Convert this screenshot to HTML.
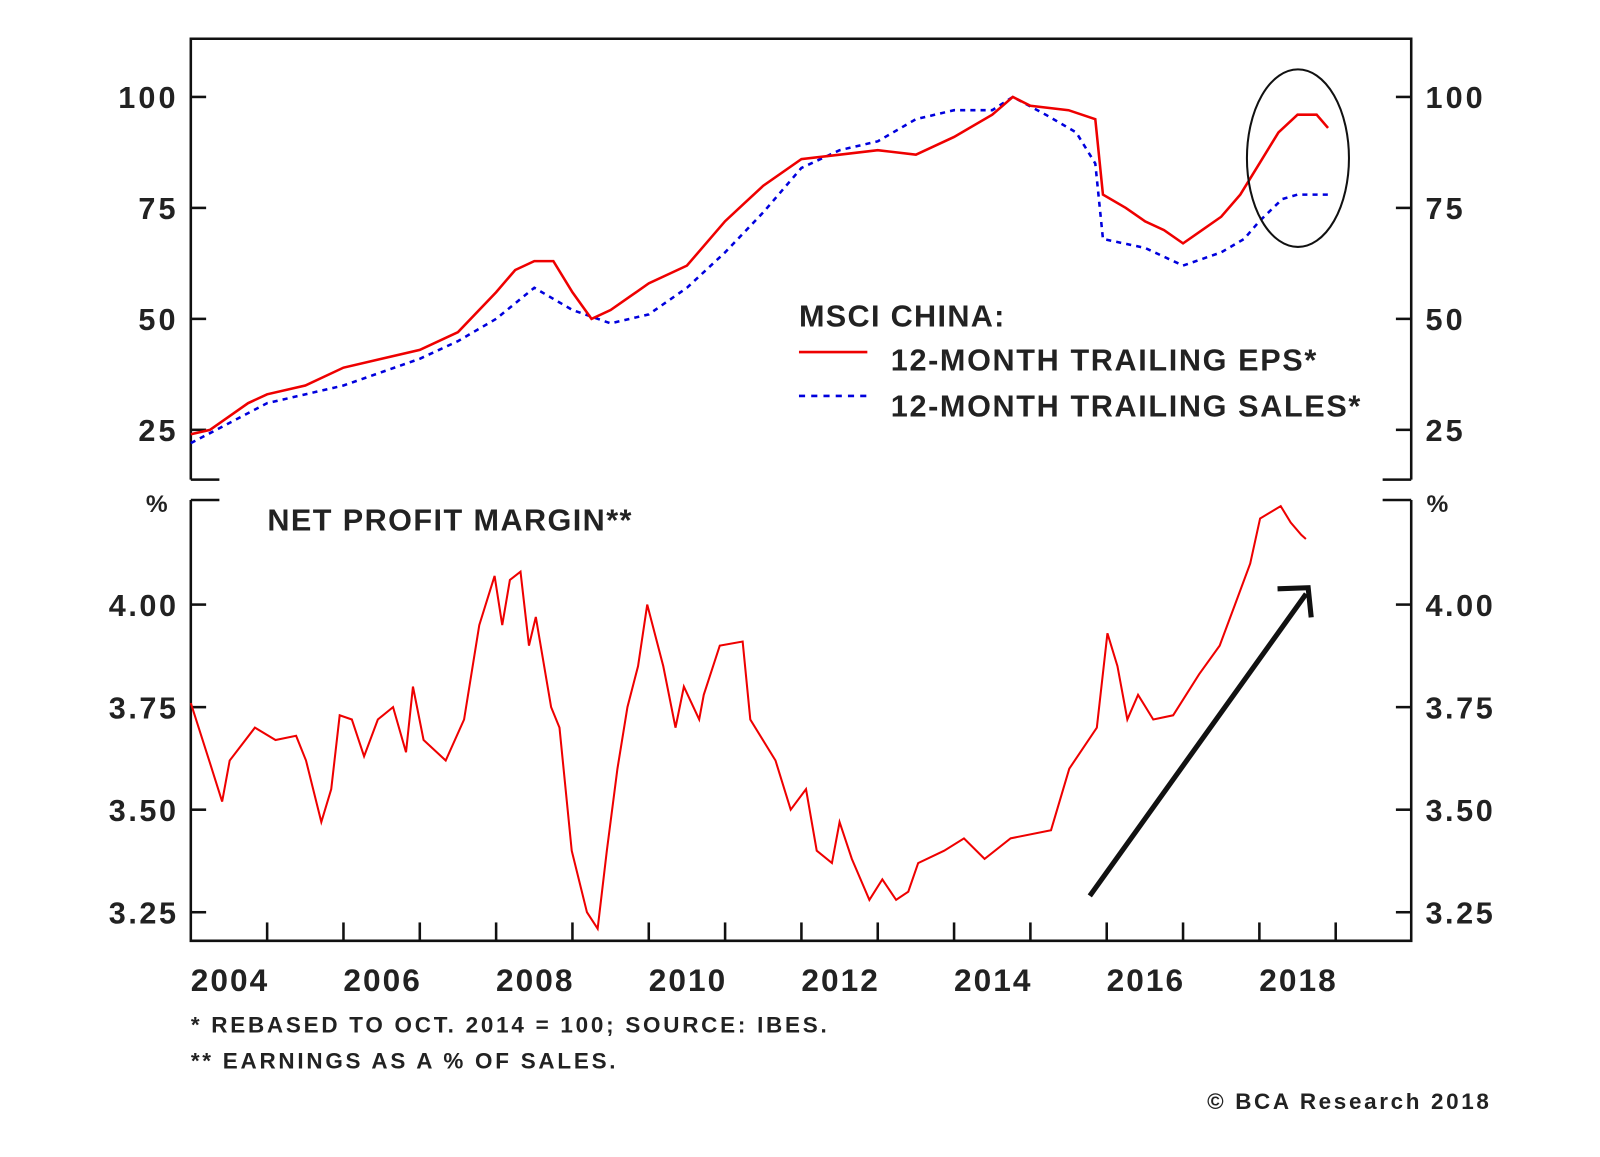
<!DOCTYPE html>
<html><head><meta charset="utf-8"><style>
html,body{margin:0;padding:0;background:#fff;}
svg text{font-family:"Liberation Sans",Arial,sans-serif;font-weight:bold;fill:#222;}
</style></head><body>
<svg id="chart" width="1600" height="1152" viewBox="0 0 1600 1152" xmlns="http://www.w3.org/2000/svg">
<g transform="scale(1.0204)">
<g id="frame" stroke="#111" stroke-width="2.5" fill="none">
<path d="M187,470 L187,38 L1383,38 L1383,470"/>
<path d="M187,470 L215,470 M1355,470 L1383,470"/>
<path d="M187,490 L215,490 M1355,490 L1383,490"/>
<path d="M187,490 L187,922 L1383,922 L1383,490"/>
</g>
<g id="axes"></g>
<g id="series"></g>
<g id="legend">
<text x="783" y="320" font-size="30" letter-spacing="1.3">MSCI CHINA:</text>
<line x1="783" y1="345" x2="850" y2="345" stroke="#e00" stroke-width="2.5"/>
<text x="873" y="363" font-size="30" letter-spacing="1.6">12-MONTH TRAILING EPS*</text>
<line x1="783" y1="388" x2="850" y2="388" stroke="#00d" stroke-width="2.5" stroke-dasharray="6,6"/>
<text x="873" y="408" font-size="30" letter-spacing="1.6">12-MONTH TRAILING SALES*</text>
</g>
<text x="262" y="520" font-size="30" letter-spacing="1.4">NET PROFIT MARGIN**</text>
<text x="143" y="502" font-size="24">%</text>
<text x="1398" y="502" font-size="24">%</text>
<ellipse cx="1272" cy="155" rx="50" ry="87" fill="none" stroke="#111" stroke-width="2"/>
<g stroke="#111" stroke-width="5" fill="none">
<line x1="1068" y1="878" x2="1280" y2="582"/>
<path d="M1252,577 L1282,576 L1285,605"/>
</g>
<text x="187" y="1012" font-size="22" letter-spacing="2.7">*  REBASED TO OCT. 2014 = 100; SOURCE: IBES.</text>
<text x="187" y="1047" font-size="22" letter-spacing="2.7">** EARNINGS AS A % OF SALES.</text>
<text x="1183" y="1087" font-size="22" letter-spacing="2.6">© BCA Research 2018</text>
</g>
</svg>
<script>
const epsYears=[2004.0,2004.25,2004.5,2004.75,2005.0,2005.5,2006.0,2006.5,2007.0,2007.5,2008.0,2008.25,2008.5,2008.75,2009.0,2009.25,2009.5,2009.75,2010.0,2010.5,2011.0,2011.25,2011.5,2012.0,2012.5,2013.0,2013.5,2014.0,2014.5,2014.77,2015.0,2015.5,2015.85,2015.95,2016.25,2016.5,2016.75,2017.0,2017.25,2017.5,2017.75,2018.0,2018.25,2018.5,2018.75,2018.9];
const epsValues=[24,25,28,31,33,35,39,41,43,47,56,61,63,63,56,50,52,55,58,62,72,76,80,86,87,88,87,91,96,100,98,97,95,78,75,72,70,67,70,73,78,85,92,96,96,93];
const salesYears=[2004.0,2005.0,2006.0,2007.0,2007.5,2008.0,2008.5,2009.0,2009.5,2010.0,2010.5,2011.0,2011.5,2012.0,2012.5,2013.0,2013.5,2014.0,2014.5,2014.77,2015.2,2015.6,2015.85,2015.95,2016.5,2017.0,2017.5,2017.8,2018.0,2018.3,2018.5,2018.9];
const salesValues=[22,31,35,41,45,50,57,52,49,51,57,65,74,84,88,90,95,97,97,100,96,92,85,68,66,62,65,68,72,77,78,78];
const marginYears=[2004.00,2004.24,2004.41,2004.51,2004.84,2005.11,2005.38,2005.51,2005.71,2005.84,2005.95,2006.11,2006.27,2006.45,2006.65,2006.82,2006.91,2007.05,2007.34,2007.58,2007.78,2007.98,2008.08,2008.18,2008.32,2008.43,2008.52,2008.72,2008.83,2008.99,2009.19,2009.33,2009.45,2009.59,2009.72,2009.86,2009.98,2010.19,2010.35,2010.46,2010.66,2010.72,2010.93,2011.23,2011.33,2011.66,2011.86,2012.06,2012.20,2012.40,2012.50,2012.66,2012.89,2013.06,2013.24,2013.40,2013.53,2013.87,2014.13,2014.40,2014.74,2015.27,2015.51,2015.87,2016.01,2016.14,2016.27,2016.41,2016.61,2016.87,2017.21,2017.48,2017.68,2017.88,2018.01,2018.28,2018.41,2018.55,2018.61];
const marginValues=[3.76,3.62,3.52,3.62,3.70,3.67,3.68,3.62,3.47,3.55,3.73,3.72,3.63,3.72,3.75,3.64,3.80,3.67,3.62,3.72,3.95,4.07,3.95,4.06,4.08,3.90,3.97,3.75,3.70,3.40,3.25,3.21,3.40,3.60,3.75,3.85,4.00,3.85,3.70,3.80,3.72,3.78,3.90,3.91,3.72,3.62,3.50,3.55,3.40,3.37,3.47,3.38,3.28,3.33,3.28,3.30,3.37,3.40,3.43,3.38,3.43,3.45,3.60,3.70,3.93,3.85,3.72,3.78,3.72,3.73,3.83,3.90,4.00,4.10,4.21,4.24,4.20,4.17,4.16];
const yearLabels=["2004","2006","2008","2010","2012","2014","2016","2018"];
const topTicks=[25,50,75,100];
const bottomTicks=[3.25,3.50,3.75,4.00];

const NS="http://www.w3.org/2000/svg";
const xScale=y=>187+(y-2004)*74.8;
const yTop=v=>95+(100-v)*4.35;
const yBot=v=>894-(v-3.25)*402;
const axes=document.getElementById('axes');
const series=document.getElementById('series');
function mk(tag,attrs,parent){const e=document.createElementNS(NS,tag);for(const k in attrs)e.setAttribute(k,attrs[k]);parent.appendChild(e);return e;}

topTicks.forEach(t=>{
  const y=yTop(t);
  const a=mk('line',{x1:187,y1:y,x2:202,y2:y,stroke:'#111','stroke-width':2.5},axes);
  
  
  const b=mk('line',{x1:1368,y1:y,x2:1383,y2:y,stroke:'#111','stroke-width':2.5},axes);
  
  
  const l=mk('text',{x:175,y:y+11,'font-size':30,'text-anchor':'end','letter-spacing':3},axes);l.textContent=t;
  
  
  const r=mk('text',{x:1397,y:y+11,'font-size':30,'letter-spacing':3},axes);r.textContent=t;
  
  
});
bottomTicks.forEach(t=>{
  const y=yBot(t);
  const a=mk('line',{x1:187,y1:y,x2:202,y2:y,stroke:'#111','stroke-width':2.5},axes);
  
  
  const b=mk('line',{x1:1368,y1:y,x2:1383,y2:y,stroke:'#111','stroke-width':2.5},axes);
  
  
  const l=mk('text',{x:175,y:y+11,'font-size':30,'text-anchor':'end','letter-spacing':2.5},axes);l.textContent=t.toFixed(2);
  
  
  const r=mk('text',{x:1397,y:y+11,'font-size':30,'letter-spacing':2.5},axes);r.textContent=t.toFixed(2);
  
  
});
for(let yr=2005;yr<=2019;yr++){
  const x=xScale(yr);
  const t=mk('line',{x1:x,y1:922,x2:x,y2:904,stroke:'#111','stroke-width':2.5},axes);
  
  
}
yearLabels.forEach(s=>{
  const x=xScale(+s+0.5);
  const l=mk('text',{x:x+1,y:971,'font-size':31,'text-anchor':'middle','letter-spacing':2},axes);l.textContent=s;
  
  
});
function pts(xs,vs,f){return xs.map((x,i)=>xScale(x).toFixed(1)+','+f(vs[i]).toFixed(1)).join(' ');}
const s=mk('polyline',{points:pts(salesYears,salesValues,yTop),fill:'none',stroke:'#00d','stroke-width':2.5,'stroke-dasharray':'5,5'},series);


const e=mk('polyline',{points:pts(epsYears,epsValues,yTop),fill:'none',stroke:'#e00','stroke-width':2.5},series);


const m=mk('polyline',{points:pts(marginYears,marginValues,yBot),fill:'none',stroke:'#e00','stroke-width':2},series);


</script>
</body></html>
